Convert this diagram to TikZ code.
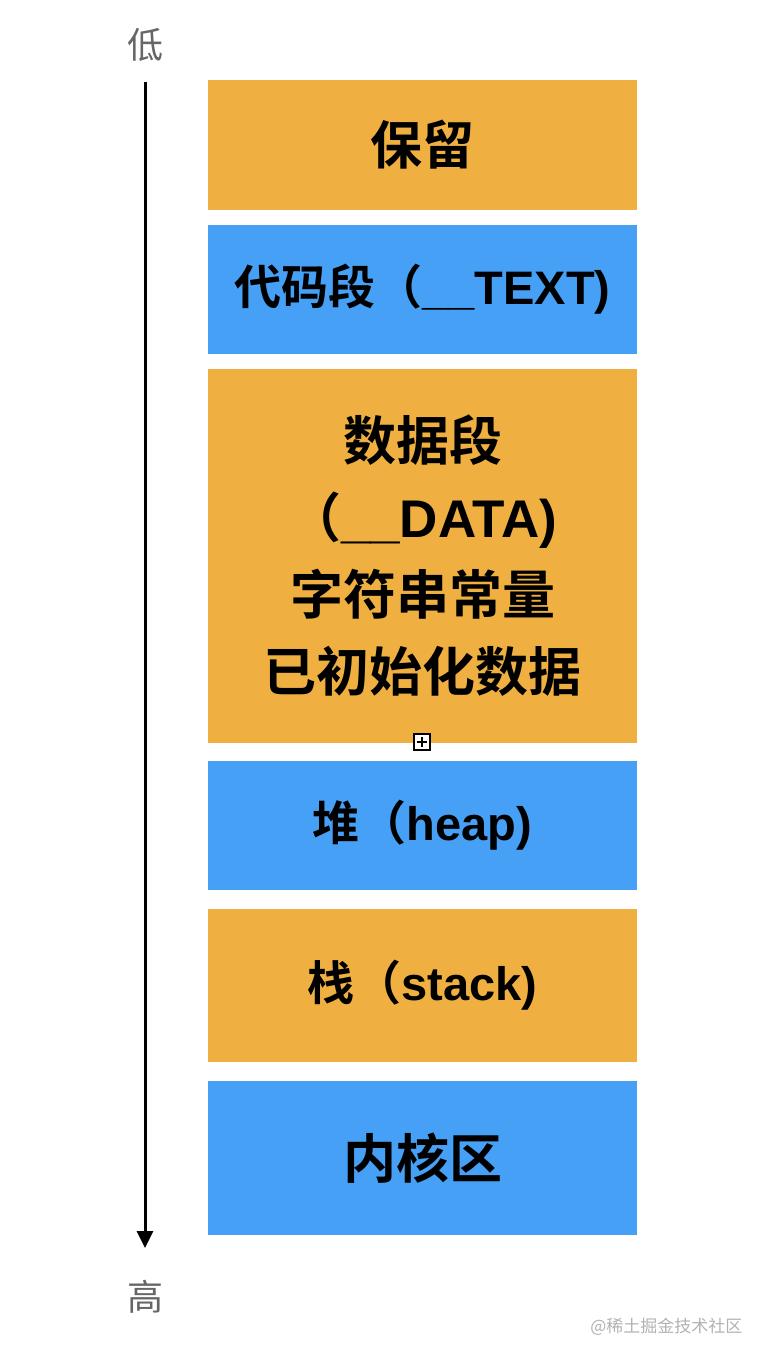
\documentclass[tikz,border=0pt]{standalone}
\usepackage{fontspec}
\newfontfamily\cjk{Noto Sans CJK SC}
\newfontfamily\cjkbold{Noto Sans CJK SC Bold}
\newfontfamily\latbold{Liberation Sans Bold}
\usetikzlibrary{arrows.meta}
\definecolor{segorange}{HTML}{EFB041}
\definecolor{segblue}{HTML}{46A0F6}
\definecolor{axisgray}{HTML}{666666}
\newcommand{\lat}[1]{{\latbold #1}}

\begin{document}
\begin{tikzpicture}[x=1pt,y=-1pt,
  seg/.style={rectangle,inner sep=0pt,minimum width=429pt,font=\cjkbold\fontsize{47}{77}\selectfont,align=center},
  orangeseg/.style={seg,fill=segorange},
  blueseg/.style={seg,fill=segblue},
  axislabel/.style={font=\cjk\fontsize{36}{40}\selectfont,text=axisgray}]
  \useasboundingbox (0,0) rectangle (770,1362);
  % address axis
  \node[axislabel] (low) at (145,45) {低};
  \node[axislabel] (high) at (145,1297) {高};
  \coordinate (top) at (145,82);
  \coordinate (bottom) at (145,1248);
  \draw[-{Triangle[length=17pt,width=16pt]}, line width=3pt] (top) -- (bottom);
  % segments
  \node[orangeseg,minimum height=130pt,font=\cjkbold\fontsize{52}{60}\selectfont] (reserved) at (422.5,145) {保留};
  \node[blueseg,minimum height=129pt] (text) at (422.5,289.5) {代码段（\lat{\_\_TEXT)}};
  \node[orangeseg,minimum height=374pt,font=\cjkbold\fontsize{53}{77}\selectfont] (data) at (422.5,556) {数据段\\（\lat{\_\_DATA)}\\字符串常量\\已初始化数据};
  \node[blueseg,minimum height=129pt] (heap) at (422.5,825.5) {堆（\lat{heap)}};
  \node[orangeseg,minimum height=153pt] (stack) at (422.5,985.5) {栈（\lat{stack)}};
  \node[blueseg,minimum height=154pt,font=\cjkbold\fontsize{53}{60}\selectfont] (kernel) at (422.5,1158) {内核区};
  % handle
  \node[draw,fill=white,line width=1.5pt,minimum size=16pt,inner sep=0pt] (handle) at (422,742) {};
  \draw[line width=1.3pt] (handle.center) ++(-5,0) -- ++(10,0);
  \draw[line width=1.3pt] (handle.center) ++(0,-5) -- ++(0,10);
  % watermark
  \node[font=\cjk\fontsize{17}{20}\selectfont,text=black!30,anchor=east] (mark) at (746,1327) {@稀土掘金技术社区};
\end{tikzpicture}
\end{document}
